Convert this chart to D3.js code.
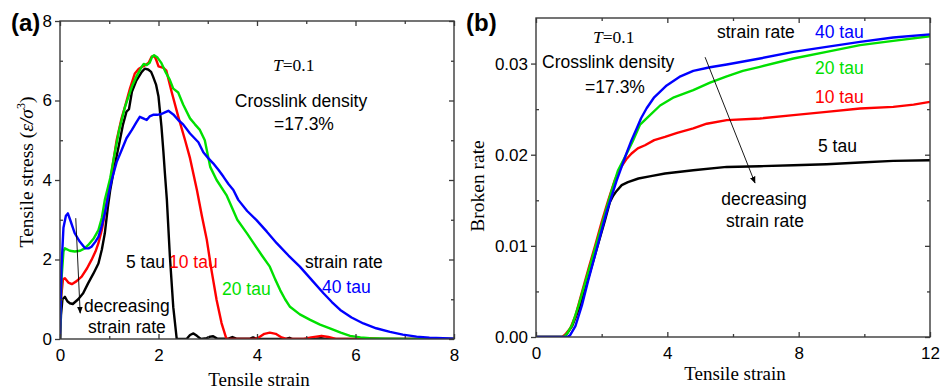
<!DOCTYPE html>
<html>
<head>
<meta charset="utf-8">
<script src="https://cdn.jsdelivr.net/npm/d3@7"></script>
<style>
  body { margin: 0; background: #fff; }
  svg { display: block; }
</style>
</head>
<body>
<svg id="fig" width="941" height="390"></svg>
<script>
// ---------- data ----------
const seriesNames = ["5 tau", "10 tau", "20 tau", "40 tau"];

// Panel (a): tensile stress vs tensile strain, [strain, stress]
const stress5 = [[0,0],[0.02,0.6],[0.05,1.0],[0.1,1.06],[0.15,0.95],[0.2,0.9],[0.26,0.88],[0.37,1.0],[0.47,1.15],[0.57,1.4],[0.68,1.65],[0.78,1.9],[0.85,2.25],[0.91,2.66],[0.97,3.3],[1.02,3.75],[1.1,4.3],[1.2,4.9],[1.28,5.4],[1.35,5.72],[1.4,5.78],[1.46,6.22],[1.55,6.5],[1.66,6.72],[1.72,6.8],[1.79,6.78],[1.85,6.72],[1.89,6.6],[1.95,6.4],[2.0,6.1],[2.06,5.34],[2.1,4.7],[2.13,4.17],[2.17,3.5],[2.23,2.1],[2.3,0.8],[2.37,0],[2.57,0],[2.64,0.1],[2.71,0.14],[2.78,0.08],[2.86,0],[2.98,0.02],[3.05,0.06],[3.11,0.07],[3.19,0.01],[3.42,0.01],[3.5,0.05],[3.58,0.01],[3.86,0.01],[3.92,0.04],[4.0,0],[4.6,0.01],[4.66,0.03],[4.72,0],[5.2,0.01],[5.3,0.02],[5.4,0],[8,0]];
const stress10 = [[0,0],[0.02,1.0],[0.06,1.5],[0.1,1.53],[0.17,1.42],[0.24,1.38],[0.33,1.45],[0.44,1.57],[0.55,1.78],[0.64,1.99],[0.72,2.2],[0.78,2.41],[0.85,2.75],[0.91,3.16],[0.97,3.6],[1.02,3.95],[1.08,4.45],[1.15,5.0],[1.25,5.55],[1.32,5.85],[1.42,6.3],[1.52,6.68],[1.6,6.8],[1.73,6.89],[1.8,6.95],[1.86,7.1],[1.92,7.12],[1.96,7.0],[2.0,6.86],[2.1,6.82],[2.16,6.75],[2.22,6.45],[2.27,6.2],[2.4,5.6],[2.54,5.0],[2.64,4.55],[2.78,3.75],[2.88,3.1],[2.98,2.5],[3.08,1.7],[3.18,0.98],[3.28,0.4],[3.38,0],[3.95,0],[4.05,0.05],[4.15,0.13],[4.26,0.16],[4.38,0.13],[4.5,0.04],[4.6,0],[4.95,0],[5.1,0.04],[5.31,0.08],[5.45,0.05],[5.6,0],[6.1,0],[6.3,0.02],[6.5,0],[8,0]];
const stress20 = [[0,0],[0.03,1.5],[0.07,2.2],[0.1,2.28],[0.2,2.22],[0.3,2.2],[0.41,2.22],[0.5,2.28],[0.57,2.36],[0.68,2.52],[0.78,2.74],[0.85,3.05],[0.91,3.5],[0.97,3.8],[1.02,4.05],[1.1,4.6],[1.2,5.25],[1.32,5.84],[1.46,6.35],[1.55,6.6],[1.66,6.85],[1.7,6.92],[1.76,6.89],[1.82,6.95],[1.87,7.1],[1.91,7.14],[1.98,7.08],[2.06,6.94],[2.15,6.7],[2.23,6.52],[2.3,6.3],[2.4,6.2],[2.5,5.9],[2.64,5.55],[2.74,5.4],[2.84,5.26],[2.94,5.0],[3.05,4.33],[3.18,4.0],[3.38,3.62],[3.6,3.0],[3.8,2.65],[3.93,2.41],[4.1,2.1],[4.26,1.82],[4.37,1.5],[4.47,1.23],[4.57,1.0],[4.67,0.81],[4.87,0.62],[5.08,0.48],[5.28,0.36],[5.48,0.27],[5.7,0.16],[5.89,0.08],[6.1,0.04],[6.29,0.02],[6.6,0.01],[7,0],[8,0]];
const stress40 = [[0,0],[0.03,1.8],[0.07,2.8],[0.12,3.1],[0.16,3.16],[0.22,2.95],[0.3,2.66],[0.4,2.45],[0.51,2.28],[0.58,2.28],[0.64,2.32],[0.72,2.45],[0.78,2.57],[0.85,2.85],[0.91,3.16],[0.98,3.6],[1.05,4.0],[1.15,4.45],[1.25,4.75],[1.35,5.05],[1.46,5.26],[1.55,5.45],[1.62,5.59],[1.69,5.55],[1.76,5.51],[1.82,5.6],[1.89,5.64],[1.97,5.64],[2.06,5.66],[2.13,5.7],[2.2,5.74],[2.3,5.65],[2.4,5.51],[2.5,5.4],[2.64,5.17],[2.81,4.95],[2.91,4.7],[3.01,4.55],[3.11,4.42],[3.22,4.25],[3.32,4.08],[3.42,3.9],[3.52,3.75],[3.62,3.5],[3.8,3.22],[3.99,2.99],[4.2,2.7],[4.4,2.41],[4.64,2.1],[4.87,1.82],[5.1,1.5],[5.35,1.15],[5.52,0.93],[5.69,0.73],[5.92,0.54],[6.16,0.39],[6.42,0.27],[6.7,0.18],[6.96,0.11],[7.24,0.06],[7.5,0.03],[7.78,0.02],[8,0.01]];

// Panel (b): broken rate vs tensile strain, [strain, rate]
const broken5 = [[0,0],[0.85,0],[0.95,0.0004],[1.1,0.0012],[1.3,0.003],[1.5,0.0053],[1.7,0.0078],[1.9,0.0103],[2.1,0.0128],[2.25,0.0148],[2.35,0.0155],[2.45,0.016],[2.61,0.01666],[2.8,0.017],[3.12,0.01739],[3.5,0.01765],[3.93,0.01794],[4.79,0.0183],[5.81,0.01866],[6.82,0.01874],[7.84,0.01885],[8.85,0.01896],[9.87,0.01914],[10.88,0.01932],[12,0.0194]];
const broken10 = [[0,0],[0.8,0],[0.9,0.0003],[1.05,0.001],[1.2,0.0023],[1.39,0.0048],[1.6,0.0075],[1.8,0.01],[2.0,0.0126],[2.2,0.015],[2.4,0.0172],[2.56,0.01849],[2.75,0.0195],[2.91,0.02013],[3.1,0.0207],[3.32,0.02104],[3.6,0.0216],[3.93,0.02195],[4.3,0.0224],[4.79,0.02288],[5.2,0.0234],[5.81,0.02379],[6.82,0.02397],[7.84,0.02434],[8.85,0.0247],[9.87,0.02507],[10.88,0.02525],[11.5,0.0255],[12,0.0258]];
const broken20 = [[0,0],[0.85,0],[0.95,0.0004],[1.1,0.0013],[1.3,0.0035],[1.5,0.006],[1.7,0.0085],[1.9,0.011],[2.1,0.0135],[2.3,0.016],[2.5,0.0183],[2.76,0.0201],[2.95,0.0215],[3.17,0.0233],[3.4,0.0241],[3.78,0.0254],[4.2,0.0263],[4.79,0.02708],[5.3,0.0279],[5.81,0.0286],[6.3,0.0292],[6.82,0.02964],[7.84,0.03056],[8.85,0.03128],[9.87,0.03202],[10.88,0.03249],[12,0.033]];
const broken40 = [[0,0],[0.95,0],[1.04,0.0002],[1.2,0.0012],[1.4,0.0035],[1.59,0.0062],[1.8,0.009],[2.0,0.0117],[2.15,0.0137],[2.3,0.0154],[2.45,0.0171],[2.61,0.0187],[2.76,0.0202],[2.91,0.0216],[3.07,0.0229],[3.2,0.024],[3.37,0.0251],[3.6,0.0263],[3.98,0.0276],[4.4,0.0286],[4.79,0.0292],[5.3,0.0296],[5.81,0.0299],[6.82,0.03056],[7.84,0.03128],[8.85,0.03183],[9.87,0.03238],[10.88,0.03286],[12,0.0332]];

// Axis ticks
const strainTicksA = [0, 2, 4, 6, 8];
const strainMinorA = [1, 3, 5, 7];
const stressTicks = [0, 2, 4, 6, 8];
const stressMinor = [1, 3, 5, 7];
const strainTicksB = [0, 4, 8, 12];
const strainMinorB = [2, 6, 10];
const brokenTicks = [0, 0.01, 0.02, 0.03];
const brokenMinor = [0.005, 0.015, 0.025];

// ---------- style ----------
const colors = ["#000000", "#ff0000", "#00e000", "#0000ff"];
const sans = "'Liberation Sans', Arial, sans-serif";
const serif = "'Liberation Serif', 'Times New Roman', serif";
const frameColor = "#3a3a3a";
const tickFont = 17;
const noteFont = 17.5;
const titleFont = 19;

const svg = d3.select("#fig");
svg.append("rect").attr("width", 941).attr("height", 390).attr("fill", "#fff");

const defs = svg.append("defs");
defs.append("marker")
  .attr("id", "arrowHead")
  .attr("viewBox", "0 0 10 10")
  .attr("refX", 9).attr("refY", 5)
  .attr("markerWidth", 7).attr("markerHeight", 7)
  .attr("markerUnits", "userSpaceOnUse")
  .attr("orient", "auto")
  .append("path").attr("d", "M0,1 L10,5 L0,9 Z").attr("fill", "#000");

function drawPanel(opt) {
  const x = d3.scaleLinear().domain(opt.xDomain).range([opt.left, opt.right]);
  const y = d3.scaleLinear().domain(opt.yDomain).range([opt.bottom, opt.top]);
  const g = svg.append("g");

  // series
  const line = d3.line().x(d => x(d[0])).y(d => y(d[1]));
  const clipId = opt.id + "Clip";
  defs.append("clipPath").attr("id", clipId).append("rect")
    .attr("x", opt.left).attr("y", opt.top - 2)
    .attr("width", opt.right - opt.left).attr("height", opt.bottom - opt.top + 2);
  g.append("g").attr("clip-path", `url(#${clipId})`)
    .selectAll("path").data(opt.series).join("path")
    .attr("d", d => line(d))
    .attr("fill", "none")
    .attr("stroke", (d, i) => colors[i])
    .attr("stroke-width", 2.4)
    .attr("stroke-linejoin", "round");

  const styleAxis = sel => {
    sel.select(".domain").remove();
    sel.selectAll("line").attr("stroke", frameColor).attr("stroke-width", 1.3);
    sel.selectAll("text").attr("font-family", sans).attr("font-size", tickFont).attr("fill", "#000");
  };

  // bottom (inward ticks, labelled)
  g.append("g").attr("transform", `translate(0,${opt.bottom})`)
    .call(d3.axisBottom(x).tickValues(opt.xTicks).tickFormat(opt.xFormat)
      .tickSizeInner(-5).tickSizeOuter(0).tickPadding(10))
    .call(styleAxis);
  g.append("g").attr("transform", `translate(0,${opt.bottom})`)
    .call(d3.axisBottom(x).tickValues(opt.xMinor).tickFormat("").tickSizeInner(-3).tickSizeOuter(0))
    .call(styleAxis);
  // top
  g.append("g").attr("transform", `translate(0,${opt.top})`)
    .call(d3.axisTop(x).tickValues(opt.xTicks).tickFormat("").tickSizeInner(-5).tickSizeOuter(0))
    .call(styleAxis);
  g.append("g").attr("transform", `translate(0,${opt.top})`)
    .call(d3.axisTop(x).tickValues(opt.xMinor).tickFormat("").tickSizeInner(-3).tickSizeOuter(0))
    .call(styleAxis);
  // left (major ticks out, minor in)
  g.append("g").attr("transform", `translate(${opt.left},0)`)
    .call(d3.axisLeft(y).tickValues(opt.yTicks).tickFormat(opt.yFormat)
      .tickSizeInner(5).tickSizeOuter(0).tickPadding(3))
    .call(styleAxis);
  g.append("g").attr("transform", `translate(${opt.left},0)`)
    .call(d3.axisLeft(y).tickValues(opt.yMinor).tickFormat("").tickSizeInner(-3).tickSizeOuter(0))
    .call(styleAxis);
  // right
  g.append("g").attr("transform", `translate(${opt.right},0)`)
    .call(d3.axisRight(y).tickValues(opt.yTicks).tickFormat("").tickSizeInner(-5).tickSizeOuter(0))
    .call(styleAxis);
  g.append("g").attr("transform", `translate(${opt.right},0)`)
    .call(d3.axisRight(y).tickValues(opt.yMinor).tickFormat("").tickSizeInner(-3).tickSizeOuter(0))
    .call(styleAxis);

  // frame
  g.append("rect")
    .attr("x", opt.left).attr("y", opt.top)
    .attr("width", opt.right - opt.left).attr("height", opt.bottom - opt.top)
    .attr("fill", "none").attr("stroke", frameColor).attr("stroke-width", 1.4);

  // x title
  g.append("text")
    .attr("x", (opt.left + opt.right) / 2 + 2).attr("y", opt.xTitleY)
    .attr("text-anchor", "middle")
    .attr("font-family", serif).attr("font-size", titleFont)
    .text("Tensile strain");

  return { x, y, g };
}

function label(g, txt, px, py, color, anchor) {
  return g.append("text")
    .attr("x", px).attr("y", py)
    .attr("text-anchor", anchor || "start")
    .attr("font-family", sans).attr("font-size", noteFont)
    .attr("fill", color || "#000")
    .text(txt);
}

function tempLabel(g, px, py) {
  const t = g.append("text").attr("x", px).attr("y", py)
    .attr("font-family", serif).attr("font-size", 17.5);
  t.append("tspan").attr("font-style", "italic").text("T");
  t.append("tspan").text("=0.1");
}

// ---------- panel (a) ----------
const A = drawPanel({
  id: "pa", left: 60, right: 454, top: 21, bottom: 339,
  xDomain: [0, 8], yDomain: [0, 8],
  xTicks: strainTicksA, xMinor: strainMinorA,
  yTicks: stressTicks, yMinor: stressMinor,
  xFormat: d3.format("d"), yFormat: d3.format("d"),
  series: [stress5, stress10, stress20, stress40],
  xTitleY: 386
});

// y title for (a)
{
  const t = svg.append("text")
    .attr("transform", "translate(33,172) rotate(-90)")
    .attr("text-anchor", "middle")
    .attr("font-family", serif).attr("font-size", 19.5);
  t.append("tspan").text("Tensile stress (");
  t.append("tspan").attr("font-style", "italic").text("ε/σ");
  t.append("tspan").attr("font-size", 12).attr("dy", -8).text("3");
  t.append("tspan").attr("dy", 8).text(")");
}
svg.append("text").attr("x", 11).attr("y", 31)
  .attr("font-family", sans).attr("font-size", 24).attr("font-weight", "bold").text("(a)");

tempLabel(A.g, 273, 71);
label(A.g, "Crosslink density", 301, 107, "#000", "middle");
label(A.g, "=17.3%", 304, 130, "#000", "middle");
label(A.g, seriesNames[0], 126, 268, colors[0]);
label(A.g, seriesNames[1], 169, 268, colors[1]);
label(A.g, seriesNames[2], 222, 295, colors[2]);
label(A.g, "strain rate", 305, 268, "#000");
label(A.g, seriesNames[3], 322, 293, colors[3]);
label(A.g, "decreasing", 84, 312, "#000");
label(A.g, "strain rate", 88, 333, "#000");

A.g.append("line")
  .attr("x1", A.x(0.32)).attr("y1", A.y(3.04))
  .attr("x2", A.x(0.41)).attr("y2", A.y(0.65))
  .attr("stroke", "#000").attr("stroke-width", 0.9)
  .attr("marker-end", "url(#arrowHead)");

// ---------- panel (b) ----------
const B = drawPanel({
  id: "pb", left: 536, right: 930, top: 18, bottom: 337,
  xDomain: [0, 12], yDomain: [0, 0.035],
  xTicks: strainTicksB, xMinor: strainMinorB,
  yTicks: brokenTicks, yMinor: brokenMinor,
  xFormat: d3.format("d"), yFormat: d3.format(".2f"),
  series: [broken5, broken10, broken20, broken40],
  xTitleY: 380
});

svg.append("text")
  .attr("transform", "translate(484,186) rotate(-90)")
  .attr("text-anchor", "middle")
  .attr("font-family", serif).attr("font-size", 19.5)
  .text("Broken rate");
svg.append("text").attr("x", 466).attr("y", 31)
  .attr("font-family", sans).attr("font-size", 24).attr("font-weight", "bold").text("(b)");

tempLabel(B.g, 593, 43);
label(B.g, "Crosslink density", 542, 68, "#000");
label(B.g, "=17.3%", 615, 93, "#000", "middle");
label(B.g, "strain rate", 717, 38, "#000");
label(B.g, seriesNames[3], 815, 38, colors[3]);
label(B.g, seriesNames[2], 815, 74, colors[2]);
label(B.g, seriesNames[1], 815, 103, colors[1]);
label(B.g, seriesNames[0], 818, 152, colors[0]);
label(B.g, "decreasing", 764, 205, "#000", "middle");
label(B.g, "strain rate", 765, 227, "#000", "middle");

B.g.append("line")
  .attr("x1", B.x(5.15)).attr("y1", B.y(0.0307))
  .attr("x2", B.x(6.67)).attr("y2", B.y(0.0169))
  .attr("stroke", "#000").attr("stroke-width", 0.9)
  .attr("marker-end", "url(#arrowHead)");
</script>
</body>
</html>
